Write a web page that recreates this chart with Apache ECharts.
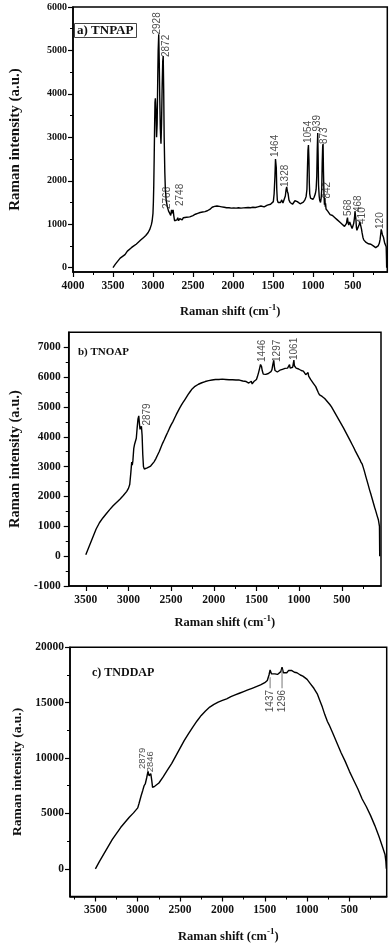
<!DOCTYPE html>
<html><head><meta charset="utf-8">
<script src="https://cdn.jsdelivr.net/npm/echarts@6/dist/echarts.min.js"></script>
<style>html,body{margin:0;padding:0;background:#fff}#c{width:392px;height:947px}</style>
</head><body><div id="c"></div>
<script>
// ---------- Panel a) TNPAP ----------
const shiftA = [3500,3470,3440,3410,3380,3350,3320,3300,3270,3240,3210,3180,3150,3120,3090,3060,3040,3020,3010,3000,2995,2990,2985,2980,2975,2970,2962,2955,2948,2940,2935,2928,2922,2915,2908,2900,2893,2885,2878,2872,2866,2860,2852,2845,2835,2820,2805,2790,2778,2768,2758,2748,2740,2730,2720,2710,2700,2690,2680,2665,2650,2635,2620,2600,2580,2560,2540,2520,2500,2470,2440,2410,2380,2350,2320,2290,2260,2230,2200,2170,2140,2110,2080,2050,2020,1990,1960,1930,1900,1870,1840,1810,1780,1750,1720,1690,1670,1650,1630,1610,1590,1570,1550,1530,1510,1495,1485,1475,1468,1464,1458,1452,1445,1435,1420,1405,1390,1375,1360,1345,1335,1328,1320,1310,1300,1285,1270,1255,1240,1225,1210,1195,1180,1160,1140,1120,1100,1085,1075,1068,1062,1056,1050,1045,1040,1030,1015,1000,985,970,960,952,946,940,935,930,922,915,905,897,890,884,878,873,868,862,856,850,846,842,836,828,815,800,785,770,755,740,725,710,695,680,665,650,635,620,605,592,580,574,568,562,552,540,530,520,510,500,490,480,474,468,462,456,450,440,430,420,414,408,400,392,385,375,365,350,335,320,305,290,275,260,245,230,215,200,185,170,160,152,146,138,131,118,102,84,80,78];
const intensityA = [0,80,150,220,260,300,380,420,460,500,540,590,640,690,740,810,880,990,1080,1250,1500,1900,2500,3200,3800,3900,3600,3000,3300,4400,5000,5370,4800,3900,3200,2850,3300,4200,4750,4870,4100,3000,2200,1800,1550,1400,1300,1250,1200,1330,1250,1330,1200,1080,1050,1120,1100,1150,1080,1130,1160,1100,1150,1180,1160,1200,1170,1190,1200,1230,1250,1270,1280,1290,1310,1340,1390,1410,1420,1410,1400,1390,1380,1380,1370,1375,1370,1380,1370,1375,1380,1385,1380,1390,1385,1400,1430,1420,1440,1400,1420,1440,1430,1460,1480,1520,1700,2100,2500,2540,2300,1800,1550,1500,1530,1500,1560,1490,1520,1650,1800,1860,1760,1700,1560,1500,1480,1460,1480,1540,1580,1520,1480,1470,1490,1510,1560,1640,1800,2300,2700,2820,2500,1950,1700,1600,1560,1570,1620,1700,1800,2100,2700,3100,2600,1900,1650,1550,1500,1600,1800,2400,2800,2850,2200,1700,1450,1600,1400,1480,1350,1330,1300,1260,1220,1210,1200,1170,1150,1120,1100,1080,1050,1020,1000,980,950,960,1020,1100,1150,1050,980,1050,1030,950,900,960,1020,1150,1300,1330,1100,920,860,840,900,1000,1060,1050,950,880,800,700,640,600,580,560,550,560,540,520,500,470,460,470,500,560,650,780,880,820,760,700,560,480,200,0];
const peakTextA = ['2928','2872','2768','2748','1464','1328','1054','939','873','842','568','468','410','120'];
const peakLabelXA = [2943,2828,2816,2653,1466,1345,1061,952,861,824,558,437,377,158];
const peakLabelYA = [5367,4849,1350,1419,2547,1857,2869,3132,2846,1590,1189,1281,1005,890];
const xTicksA = [4000,3500,3000,2500,2000,1500,1000,500];
const yTicksA = [0,1000,2000,3000,4000,5000,6000];

// ---------- Panel b) TNOAP ----------
const shiftB = [3500,3460,3420,3380,3340,3300,3260,3220,3180,3140,3100,3060,3020,3000,2985,2972,2962,2955,2948,2938,2928,2918,2908,2898,2888,2879,2872,2864,2856,2848,2840,2832,2824,2814,2800,2780,2760,2740,2720,2700,2680,2660,2640,2620,2600,2580,2560,2540,2520,2500,2480,2460,2440,2420,2400,2380,2360,2340,2320,2300,2280,2260,2240,2220,2200,2180,2160,2140,2120,2100,2080,2060,2040,2020,2000,1980,1960,1940,1920,1900,1880,1860,1840,1820,1800,1780,1760,1740,1720,1700,1680,1660,1640,1620,1600,1590,1580,1570,1560,1550,1540,1530,1515,1500,1490,1475,1462,1452,1446,1440,1432,1420,1405,1390,1375,1360,1345,1330,1318,1308,1297,1290,1282,1270,1255,1240,1225,1210,1195,1180,1165,1150,1135,1120,1112,1105,1095,1085,1075,1068,1061,1055,1045,1035,1020,1005,990,975,962,950,940,930,922,912,902,895,888,880,865,850,835,820,805,790,775,760,745,730,715,700,680,660,640,620,600,580,560,540,520,500,480,460,440,420,400,380,360,340,320,300,285,275,268,260,250,235,220,205,190,175,160,145,130,115,100,85,70,58,55];
const intensityB = [50,330,620,900,1120,1280,1420,1560,1690,1800,1910,2030,2170,2270,2400,2800,3150,3050,3200,3600,3750,3780,3950,4300,4600,4700,4450,4250,4300,4350,4050,3400,3000,2920,2950,2960,3000,3020,3080,3160,3260,3380,3500,3640,3780,3900,4030,4150,4280,4400,4500,4620,4740,4850,4960,5060,5150,5240,5330,5420,5500,5580,5640,5690,5730,5760,5790,5810,5830,5850,5860,5880,5890,5900,5910,5920,5930,5920,5940,5930,5940,5920,5930,5910,5930,5910,5920,5900,5890,5900,5880,5870,5860,5850,5850,5800,5840,5790,5860,5770,5810,5850,5890,5920,6000,6150,6300,6420,6450,6350,6220,6100,6080,6090,6110,6120,6140,6180,6250,6420,6560,6350,6220,6160,6170,6200,6230,6250,6260,6270,6290,6280,6300,6310,6420,6300,6280,6300,6330,6450,6570,6380,6320,6300,6280,6270,6250,6220,6180,6200,6150,6200,6080,6100,6020,6150,6030,5980,5920,5860,5800,5750,5680,5580,5480,5400,5370,5350,5320,5280,5220,5150,5080,5000,4900,4800,4700,4600,4500,4400,4300,4190,4080,3970,3860,3750,3640,3520,3410,3300,3220,3150,3200,3080,2990,2850,2690,2540,2390,2230,2090,1940,1790,1640,1500,1350,1210,1000,0];
const peakTextB = ['2879','1446','1297','1061'];
const peakLabelXB = [2774,1429,1257,1061];
const peakLabelYB = [4374,6505,6505,6572];
const xTicksB = [3500,3000,2500,2000,1500,1000,500];
const yTicksB = [-1000,0,1000,2000,3000,4000,5000,6000,7000];

// ---------- Panel c) TNDDAP ----------
const shiftC = [3500,3450,3400,3350,3300,3250,3200,3150,3100,3050,3000,2985,2970,2960,2950,2940,2925,2910,2895,2879,2865,2855,2846,2835,2825,2800,2750,2700,2650,2600,2550,2500,2450,2400,2350,2300,2250,2200,2150,2100,2050,2000,1950,1900,1850,1800,1750,1700,1650,1600,1550,1500,1470,1450,1437,1420,1400,1380,1350,1330,1310,1296,1280,1260,1240,1220,1200,1180,1150,1120,1100,1080,1050,1000,960,920,880,850,820,790,760,740,700,650,600,550,500,450,400,350,300,250,200,150,110,80,70,64];
const intensityC = [0,700,1350,2000,2650,3200,3750,4200,4650,5050,5500,5900,6000,6600,6700,7100,7500,7700,8200,8800,8400,8300,8600,8000,7350,7450,7750,8300,8900,9500,10200,10900,11600,12200,12800,13350,13850,14250,14600,14850,15050,15200,15350,15550,15700,15850,16000,16150,16300,16450,16600,16800,17000,17500,17950,17600,17550,17600,17550,17700,17800,18200,17700,17850,17700,17900,17850,17900,17750,17700,17650,17500,17400,17100,16700,16300,15800,15200,14600,13900,13300,13000,12300,11400,10500,9700,8800,8000,7200,6300,5600,4800,3900,2900,2000,1300,700,0];
const peakTextC = ['2879','2846'];
const peakLabelXC = [2948,2848];
const peakLabelYC = [9016,8710];
const leaderTextC = ['1437','1296'];
const leaderXC = [1437,1296];
const leaderTopC = [17300,18000];
const leaderBottomC = [16300,16300];
const xTicksC = [3500,3000,2500,2000,1500,1000,500];
const yTicksC = [0,5000,10000,15000,20000];

// ---------- build ----------
const SERIF = 'Liberation Serif, Times New Roman, serif';
const SANS = 'Liberation Sans, Arial, sans-serif';
const zip = (xs, ys) => xs.map((x, i) => [x, ys[i]]);
const plain = v => String(v);

const grids = [
  {left: 62.7, top: 7, width: 324.6, height: 265},
  {left: 68.3, top: 332.3, width: 312.7, height: 253.7},
  {left: 70, top: 647.3, width: 316.7, height: 249.2}
].map(g => Object.assign(g, {show: true, borderColor: '#000', borderWidth: 1.5, containLabel: false}));

const xName = {
  name: '{t|Raman shift (cm}{s|-1}{t|)}',
  nameLocation: 'middle',
  nameTextStyle: {rich: {
    t: {fontFamily: SERIF, fontWeight: 'bold', fontSize: 12.5, color: '#111', lineHeight: 18},
    s: {fontFamily: SERIF, fontWeight: 'bold', fontSize: 9, color: '#111', verticalAlign: 'top', lineHeight: 18}
  }}
};

function xAxis(gi, min, max, ticks, gap, labelSize) {
  return Object.assign({
    gridIndex: gi, type: 'value', inverse: true, min: min, max: max,
    minInterval: 500, maxInterval: 500, nameGap: gap,
    axisLine: {show: true, onZero: false, lineStyle: {color: '#000', width: 1.5}},
    axisTick: {show: true, inside: false, length: 5, customValues: ticks, lineStyle: {color: '#000', width: 1.2}},
    minorTick: {show: true, splitNumber: 2, length: 3, lineStyle: {color: '#000', width: 1}},
    axisLabel: {show: true, customValues: ticks, formatter: plain, margin: 8, fontFamily: SERIF, fontWeight: 'bold', fontSize: labelSize, color: '#111'},
    splitLine: {show: false}, minorSplitLine: {show: false}
  }, xName);
}
function yAxis(gi, min, max, ticks, step, gap, labelSize, nameSize, margin) {
  return {
    gridIndex: gi, type: 'value', min: min, max: max,
    minInterval: step, maxInterval: step,
    name: 'Raman intensity (a.u.)', nameLocation: 'middle', nameGap: gap,
    nameTextStyle: {fontFamily: SERIF, fontWeight: 'bold', fontSize: nameSize, color: '#111'},
    axisLine: {show: true, onZero: false, lineStyle: {color: '#000', width: 1.5}},
    axisTick: {show: true, inside: false, length: 5, customValues: ticks, lineStyle: {color: '#000', width: 1.2}},
    minorTick: {show: true, splitNumber: 2, length: 3, lineStyle: {color: '#000', width: 1}},
    axisLabel: {show: true, customValues: ticks, formatter: plain, margin: margin, fontFamily: SERIF, fontWeight: 'bold', fontSize: labelSize, color: '#111'},
    splitLine: {show: false}, minorSplitLine: {show: false}
  };
}

function spectrum(gi, xs, ys) {
  return {type: 'line', xAxisIndex: gi, yAxisIndex: gi, data: zip(xs, ys), showSymbol: false, symbol: 'none',
    lineStyle: {color: '#000', width: 1.4}, z: 3, silent: true};
}
function peakLabels(gi, texts, xs, ys, align, size) {
  return {type: 'scatter', xAxisIndex: gi, yAxisIndex: gi, symbolSize: 0, silent: true, z: 5,
    data: texts.map((t, i) => ({name: t, value: [xs[i], ys[i]]})),
    label: {show: true, formatter: '{b}', position: 'inside', rotate: 90, align: align || 'left', verticalAlign: 'middle',
      fontFamily: SANS, fontSize: size || 10, color: '#222'}};
}

const series = [
  spectrum(0, shiftA, intensityA),
  spectrum(1, shiftB, intensityB),
  spectrum(2, shiftC, intensityC),
  peakLabels(0, peakTextA, peakLabelXA, peakLabelYA),
  peakLabels(1, peakTextB, peakLabelXB, peakLabelYB),
  peakLabels(2, peakTextC, peakLabelXC, peakLabelYC, 'left', 9.5),
  peakLabels(2, leaderTextC, leaderXC, leaderBottomC.map(v => v - 150), 'right')
];
leaderXC.forEach((x, i) => {
  series.push({type: 'line', xAxisIndex: 2, yAxisIndex: 2, showSymbol: false, symbol: 'none', silent: true,
    data: [[x, leaderTopC[i]], [x, leaderBottomC[i]]], lineStyle: {color: '#777', width: 1}, z: 4});
});

const option = {
  animation: false,
  backgroundColor: '#fff',
  title: [
    {text: 'a) TNPAP', left: 74, top: 23, padding: [1, 3], borderWidth: 1, borderColor: '#444',
      textStyle: {fontFamily: SERIF, fontWeight: 'bold', fontSize: 13, color: '#111'}},
    {text: 'b) TNOAP', left: 78, top: 347, padding: 0,
      textStyle: {fontFamily: SERIF, fontWeight: 'bold', fontSize: 11, color: '#111'}},
    {text: 'c) TNDDAP', left: 92, top: 667, padding: 0,
      textStyle: {fontFamily: SERIF, fontWeight: 'bold', fontSize: 12, color: '#111'}}
  ],
  grid: grids,
  xAxis: [
    xAxis(0, 70, 4000, xTicksA, 31, 11.5),
    xAxis(1, 40, 3700, xTicksB, 28, 11.5),
    xAxis(2, 60, 3800, xTicksC, 31, 11.5)
  ],
  yAxis: [
    yAxis(0, -100, 6000, yTicksA, 1000, 50, 10, 15, 6),
    yAxis(1, -1000, 7500, yTicksB, 1000, 44, 11.5, 14.5, 8),
    yAxis(2, -2500, 20000, yTicksC, 5000, 37, 11.5, 13.5, 6)
  ],
  series: series
};
const chart = echarts.init(document.getElementById('c'), null, {renderer: 'canvas'});
chart.setOption(option);
</script>
</body></html>
